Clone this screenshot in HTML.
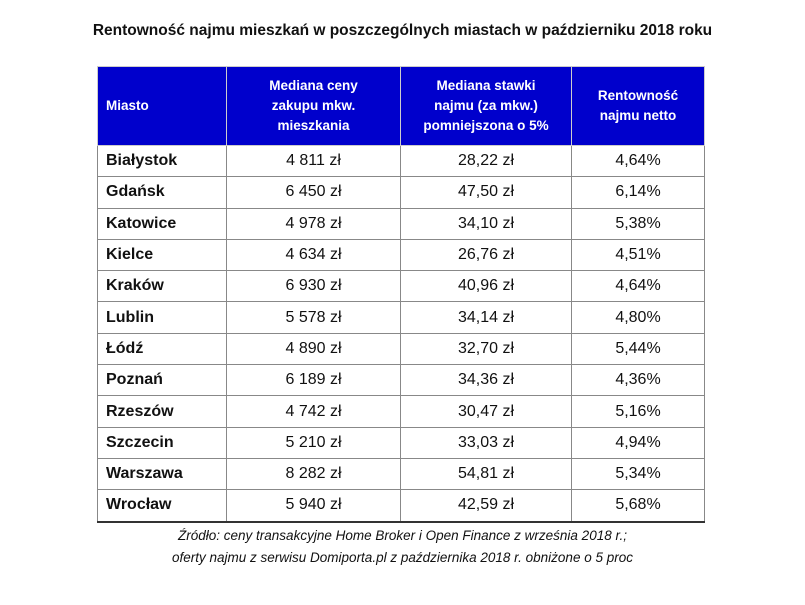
<!DOCTYPE html>
<html><head><meta charset="utf-8"><style>
body{margin:0;width:805px;height:605px;background:#fff;font-family:"Liberation Sans",sans-serif;position:relative;overflow:hidden}
#title{position:absolute;top:22px;left:0;width:805px;text-align:center;font-weight:bold;font-size:15.5px;color:#111}
table{position:absolute;left:97px;top:66px;border-collapse:collapse;width:608px}
td,th{border:1px solid #888;padding:0;font-size:16px;color:#111}
th{background:#0000cc;color:#fff;font-size:13.5px;font-weight:bold;height:78px;line-height:20px;border-color:#ccc}
tbody td{height:30.3px;text-align:center;border-top:1.5px solid #333}
tbody td:first-child{text-align:left;padding-left:8px;font-weight:bold}
tbody tr:last-child td{border-bottom:2px solid #333}
.fn{position:absolute;left:0;width:805px;text-align:center;font-style:italic;font-size:13.5px;color:#111}
</style></head><body>
<div id="title">Rentowność najmu mieszkań w poszczególnych miastach w październiku 2018 roku</div>
<table>
<thead><tr>
<th style="width:120px;text-align:left;padding-left:8px">Miasto</th>
<th style="width:173px">Mediana ceny<br>zakupu mkw.<br>mieszkania</th>
<th style="width:170px">Mediana stawki<br>najmu (za mkw.)<br>pomniejszona o 5%</th>
<th>Rentowność<br>najmu netto</th>
</tr></thead>
<tbody id="tb"></tbody></table>
<div class="fn" style="top:528px">Źródło: ceny transakcyjne Home Broker i Open Finance z września 2018 r.;</div>
<div class="fn" style="top:550px">oferty najmu z serwisu Domiporta.pl z października 2018 r. obniżone o 5 proc</div>
<script>
const cities=["Białystok","Gdańsk","Katowice","Kielce","Kraków","Lublin","Łódź","Poznań","Rzeszów","Szczecin","Warszawa","Wrocław"];
const prices=["4 811 zł","6 450 zł","4 978 zł","4 634 zł","6 930 zł","5 578 zł","4 890 zł","6 189 zł","4 742 zł","5 210 zł","8 282 zł","5 940 zł"];
const rents=["28,22 zł","47,50 zł","34,10 zł","26,76 zł","40,96 zł","34,14 zł","32,70 zł","34,36 zł","30,47 zł","33,03 zł","54,81 zł","42,59 zł"];
const yields=["4,64%","6,14%","5,38%","4,51%","4,64%","4,80%","5,44%","4,36%","5,16%","4,94%","5,34%","5,68%"];
const tb=document.getElementById('tb');
cities.forEach((c,i)=>{
 const tr=document.createElement('tr');
 
 
 [c,prices[i],rents[i],yields[i]].forEach((v,j)=>{
  const td=document.createElement('td');
  td.textContent=v;
  
  
  tr.appendChild(td);
 });
 tb.appendChild(tr);
});
</script>
</body></html>
